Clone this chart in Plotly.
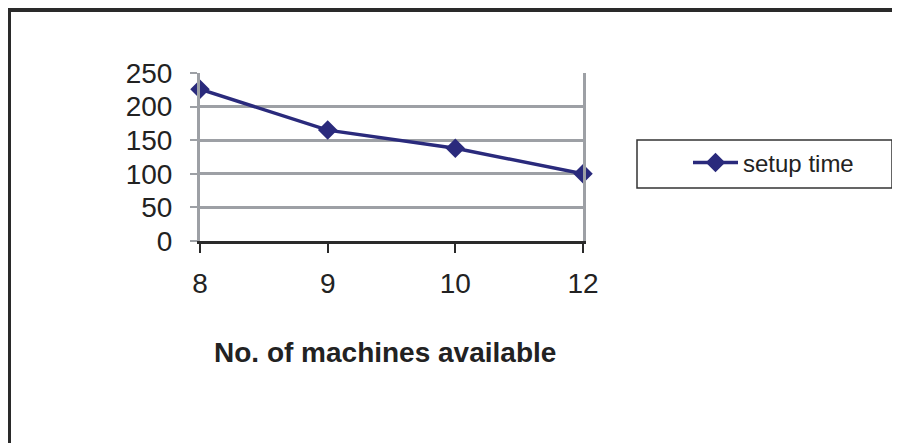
import plotly.graph_objects as go

categories = ["8", "9", "10", "12"]
setup_time = [226, 165, 138, 100]
y_ticks = [0, 50, 100, 150, 200, 250]

navy = "#2a2a7c"
grid = "#9da0a5"
dark = "#2a2a2a"
font_family = "Liberation Sans, Arial, sans-serif"

# page body has an 8px margin, so figure coords = screen coords - 8
OFF = 8
W, H = 900, 443
L, R, T, B = 200 - OFF, 583 - OFF, 73 - OFF, 241 - OFF


def px(x):
    return (x - OFF - L) / (R - L)


def py(y):
    return (B - (y - OFF)) / (B - T)


fig = go.Figure()
fig.add_trace(go.Scatter(
    x=list(range(len(categories))), y=setup_time, mode="lines+markers",
    name="setup time", line=dict(color=navy, width=3.5),
    marker=dict(symbol="diamond", size=15, color=navy),
    cliponaxis=False,
))

fig.update_layout(
    width=W, height=H,
    margin=dict(l=L, r=W - R, t=T, b=H - B),
    paper_bgcolor="white", plot_bgcolor="white",
    font=dict(family=font_family, color="#222222", size=28),
    showlegend=True,
    legend=dict(
        x=px(688), y=py(163), xanchor="left", yanchor="middle",
        bgcolor="rgba(0,0,0,0)", borderwidth=0,
        font=dict(size=24, family=font_family, color="#222222"),
        itemwidth=45,
    ),
    xaxis=dict(
        tickmode="array", tickvals=list(range(len(categories))), ticktext=categories,
        range=[0, len(categories) - 1], showgrid=False, zeroline=False,
        showline=True, linecolor=dark, linewidth=3,
        ticks="outside", ticklen=9, tickwidth=2, tickcolor=dark,
        ticklabelstandoff=6, tickfont=dict(size=28),
        fixedrange=True,
    ),
    yaxis=dict(
        range=[0, 250], tickmode="array", tickvals=y_ticks,
        showgrid=True, gridcolor=grid, gridwidth=3, zeroline=False,
        showline=True, linecolor=grid, linewidth=3, mirror=True,
        ticks="outside", ticklen=7, tickwidth=2, tickcolor=grid,
        ticklabelstandoff=12, tickfont=dict(size=28),
        fixedrange=True,
    ),
    annotations=[dict(
        text="<b>No. of machines available</b>", x=px(385), y=py(352),
        xref="paper", yref="paper",
        showarrow=False, font=dict(size=28, family=font_family, color="#222222"),
        xanchor="center", yanchor="middle",
    )],
    shapes=[
        dict(type="rect", xref="paper", yref="paper",
             x0=px(9), x1=px(920), y0=py(470), y1=py(10),
             line=dict(color=dark, width=4), fillcolor="rgba(0,0,0,0)", layer="below"),
        dict(type="rect", xref="paper", yref="paper",
             x0=px(637), x1=px(892), y0=py(188), y1=py(140),
             line=dict(color="#333333", width=1.5), fillcolor="rgba(0,0,0,0)"),
    ],
)

fig.write_html("out.html")
